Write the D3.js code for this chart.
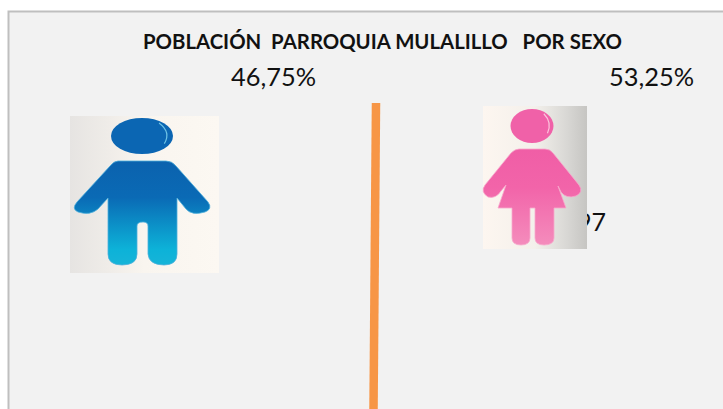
<!DOCTYPE html>
<html>
<head>
<meta charset="utf-8">
<script src="https://cdn.jsdelivr.net/npm/d3@7"></script>
<style>
  html, body { margin: 0; padding: 0; background: #fff; overflow: hidden; }
  text { font-family: Lato, "Open Sans", sans-serif; fill: #111; }
</style>
</head>
<body>
<svg width="723" height="409"></svg>
<script>
const chartTitle = 'POBLACIÓN  PARROQUIA MULALILLO   POR SEXO'
const sexes = ['Hombres', 'Mujeres']
const percents = [46.75, 53.25]
// only the end of this label shows, the rest is behind the picture
const hiddenLabel = '97'

var svg = d3.select('svg')

const fmt = d => d.toFixed(2).replace('.', ',') + '%'
const xLabel = d3.scalePoint().domain(sexes).range([273.5, 651.5])

// panel
svg.append('rect')
    .attr('x', 8.5).attr('y', 11.5)
    .attr('width', 800).attr('height', 500)
    .style('fill', '#f2f2f2')
    .style('stroke', '#bfbfbf')
    .style('stroke-width', 2)

svg.append('text')
    .attr('x', 382.5).attr('y', 49)
    .attr('text-anchor', 'middle')
    .attr('xml:space', 'preserve')
    .style('white-space', 'pre')
    .style('font-size', '20px')
    .style('font-weight', 700)
    .attr('textLength', 479)
    .attr('lengthAdjust', 'spacingAndGlyphs')
    .text(chartTitle)

svg.selectAll('text.pct')
    .data(sexes)
    .enter().append('text')
    .attr('class', 'pct')
    .attr('x', d => xLabel(d))
    .attr('y', 86)
    .attr('text-anchor', 'middle')
    .style('font-size', '25px')
    .attr('textLength', 85)
    .attr('lengthAdjust', 'spacingAndGlyphs')
    .text((d, i) => fmt(percents[i]))

// divider
svg.append('line')
    .attr('x1', 376).attr('y1', 103)
    .attr('x2', 373.5).attr('y2', 409)
    .style('stroke', '#f79646')
    .style('stroke-width', 8.5)

svg.append('text')
    .attr('x', 606).attr('y', 231)
    .attr('text-anchor', 'end')
    .style('font-size', '25px')
    .text(hiddenLabel)

const defs = svg.append('defs')

function addGradient(id, x2, y2, stops) {
    const g = defs.append('linearGradient')
        .attr('id', id)
        .attr('x1', 0).attr('y1', 0)
        .attr('x2', x2).attr('y2', y2)
    stops.forEach(s => g.append('stop').attr('offset', s[0]).attr('stop-color', s[1]))
}

addGradient('bgMale', 1, 0, [[0, '#e6e4e2'], [0.25, '#efece8'], [0.5, '#f9f5ef'], [1, '#fcf8f2']])
addGradient('bgFemale', 1, 0, [[0, '#fdf6f0'], [0.5, '#f3f0eb'], [0.8, '#d9d8d5'], [1, '#c6c5c2']])
addGradient('figMale', 0, 1, [[0, '#0b62ae'], [0.35, '#0a6ab5'], [0.85, '#0db2d8'], [1, '#16b4d8']])
addGradient('figFemale', 0, 1, [[0, '#f05ea6'], [0.4, '#f264a9'], [1, '#f48cbc']])

function picture(box, bg, fig, head, body) {
    svg.append('rect')
        .attr('x', box[0]).attr('y', box[1])
        .attr('width', box[2]).attr('height', box[3])
        .style('fill', `url(#${bg})`)
    svg.append('path')
        .attr('d', body)
        .style('fill', `url(#${fig})`)
        .style('stroke', fig == 'figMale' ? '#4fb0dc' : '#f8a8cc')
        .style('stroke-width', 0.8)
    svg.append('ellipse')
        .attr('cx', head[0]).attr('cy', head[1])
        .attr('rx', head[2]).attr('ry', head[3])
        .style('fill', fig == 'figMale' ? '#0b66b3' : '#f061a8')
    // highlight on the head
    svg.append('path')
        .attr('d', `M${head[0] + head[2] * 0.55} ${head[1] - head[3] * 0.72} Q${head[0] + head[2] * 0.95} ${head[1] - head[3] * 0.2} ${head[0] + head[2] * 0.72} ${head[1] + head[3] * 0.42}`)
        .style('fill', 'none')
        .style('stroke', fig == 'figMale' ? '#6ec3e6' : '#fbc4dc')
        .style('stroke-width', 1.2)
}

picture([70, 116, 149, 157], 'bgMale', 'figMale', [142, 136, 31, 18],
    'M118 161 L166 161 Q172 161 176 166 L208 202 Q213 209 205 212 Q192 216 186 209 L177 198 L177 254 Q177 265 164 265 Q149 265 148 254 L148 226 Q148 222 143 222 Q137 222 137 226 L137 254 Q137 265 122 265 Q108 265 108 254 L108 198 L98 209 Q90 216 78 212 Q71 209 77 202 L110 166 Q114 161 118 161 Z')

picture([483, 106, 104, 143], 'bgFemale', 'figFemale', [532, 126, 21.5, 17],
    'M519 149 L545 149 Q550 149 553 153 L579 185 Q584 192 576 196 Q566 199 561 192 L558 186 L566 208 L554 208 L554 238 Q554 245 544 245 Q535 245 535 238 L535 208 L530 208 L530 238 Q530 245 521 245 Q512 245 512 238 L512 208 L498 208 L506 185 L501 191 Q496 199 488 197 Q480 192 485 185 L511 153 Q515 149 519 149 Z')
</script>
</body>
</html>
